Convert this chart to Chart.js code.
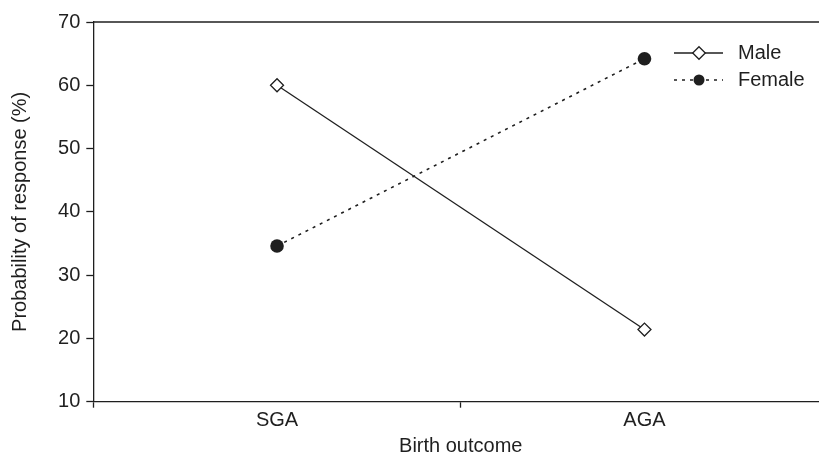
<!DOCTYPE html>
<html>
<head>
<meta charset="utf-8">
<script src="https://cdn.jsdelivr.net/npm/chart.js@4/dist/chart.umd.min.js"></script>
<style>
  html,body{margin:0;padding:0;background:#fff;overflow:hidden;}
  #wrap{width:836px;height:454px;}
</style>
</head>
<body>
<div id="wrap"><canvas id="chart" width="836" height="454"></canvas></div>
<script>
// --- data
const categories = ['SGA', 'AGA'];
const maleValues = [60, 21.4];
const femaleValues = [34.6, 64.2];
const yTicks = [10, 20, 30, 40, 50, 60, 70];

const ink = '#1f1f1f';
const fontFamily = '"Liberation Sans", Arial, Helvetica, sans-serif';

// --- top frame line + legend (line with marker in the middle)
const framePlugin = {
  id: 'frame',
  afterDraw(chart){
    const {ctx, chartArea} = chart;
    ctx.save();
    ctx.strokeStyle = ink; ctx.lineWidth = 1.3;
    ctx.beginPath(); ctx.moveTo(chartArea.left, chartArea.top); ctx.lineTo(chartArea.right, chartArea.top); ctx.stroke();

    // legend
    const x0 = 674, x1 = 723, xm = 699;
    ctx.font = '20px ' + fontFamily;
    ctx.fillStyle = ink; ctx.textBaseline = 'middle'; ctx.textAlign = 'left';

    // Male
    let y = 53;
    ctx.lineWidth = 1.3; ctx.setLineDash([]);
    ctx.beginPath(); ctx.moveTo(x0, y); ctx.lineTo(x1, y); ctx.stroke();
    ctx.beginPath();
    ctx.moveTo(xm, y - 6.3); ctx.lineTo(xm + 6.3, y); ctx.lineTo(xm, y + 6.3); ctx.lineTo(xm - 6.3, y); ctx.closePath();
    ctx.fillStyle = '#fff'; ctx.fill(); ctx.stroke();
    ctx.fillStyle = ink; ctx.fillText('Male', 738, y);

    // Female
    y = 80;
    ctx.setLineDash([3, 5]); ctx.lineWidth = 1.6;
    ctx.beginPath(); ctx.moveTo(x0, y); ctx.lineTo(x1, y); ctx.stroke();
    ctx.setLineDash([]);
    ctx.beginPath(); ctx.arc(xm, y, 5.5, 0, Math.PI * 2); ctx.fill();
    ctx.fillText('Female', 738, y);
    ctx.restore();
  }
};

new Chart(document.getElementById('chart'), {
  type: 'line',
  data: {
    labels: categories,
    datasets: [
      {
        label: 'Male', data: maleValues,
        borderColor: ink, borderWidth: 1.3,
        pointStyle: 'rectRot', pointRadius: 6.5,
        pointBackgroundColor: '#fff', pointBorderColor: ink, pointBorderWidth: 1.3
      },
      {
        label: 'Female', data: femaleValues,
        borderColor: ink, borderWidth: 1.6, borderDash: [3, 5],
        pointStyle: 'circle', pointRadius: 6.8,
        pointBackgroundColor: ink, pointBorderColor: ink, pointBorderWidth: 0
      }
    ]
  },
  options: {
    responsive: false,
    animation: false,
    layout: { padding: { top: 22, right: 3, left: 0, bottom: 0 } },
    plugins: { legend: { display: false }, tooltip: { enabled: false } },
    scales: {
      x: {
        offset: true,
        grid: { offset: true, drawOnChartArea: false, tickLength: 6, tickColor: ink, tickWidth: 1.3 },
        border: { color: ink, width: 1.3 },
        ticks: { color: ink, padding: 3, font: { family: fontFamily, size: 20, lineHeight: 1 } },
        title: { display: true, text: 'Birth outcome', color: ink, padding: { top: 0, bottom: -2 },
                 font: { family: fontFamily, size: 20, lineHeight: 1 } },
        afterFit(scale){ scale.height = 52.3; }
      },
      y: {
        min: 10, max: 70,
        afterBuildTicks(scale){ scale.ticks = yTicks.map(v => ({ value: v })); },
        grid: { drawOnChartArea: false, tickLength: 7, tickColor: ink, tickWidth: 1.3 },
        border: { color: ink, width: 1.3 },
        ticks: { color: ink, padding: 6, font: { family: fontFamily, size: 20, lineHeight: 1 } },
        title: { display: true, text: 'Probability of response (%)', color: ink, padding: { top: 10, bottom: 0 },
                 font: { family: fontFamily, size: 20, lineHeight: 1 } },
        afterFit(scale){ scale.width = 93.3; }
      }
    }
  },
  plugins: [framePlugin]
});
</script>
</body>
</html>
